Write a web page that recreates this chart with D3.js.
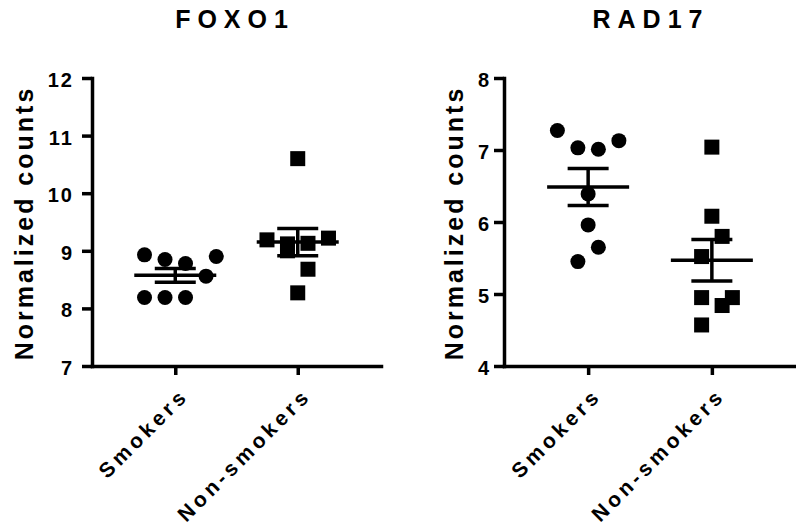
<!DOCTYPE html>
<html>
<head>
<meta charset="utf-8">
<script src="https://cdn.jsdelivr.net/npm/d3@7"></script>
<style>
  html, body { margin: 0; padding: 0; background: #fff; }
  svg { display: block; font-family: "Liberation Sans", Arial, sans-serif; font-weight: bold; }
</style>
</head>
<body>
<svg id="chart" width="796" height="532"></svg>
<script>
// ---------- data ----------
const categories = ["Smokers", "Non-smokers"];
const panelTitles = ["FOXO1", "RAD17"];
const yAxisTitle = "Normalized counts";

const foxo1Smokers    = [8.93, 8.85, 8.78, 8.90, 8.56, 8.19, 8.19, 8.19];
const foxo1NonSmokers = [10.60, 9.19, 9.12, 9.00, 9.13, 9.22, 8.68, 8.27];
const rad17Smokers    = [7.27, 7.03, 7.01, 7.13, 6.39, 5.96, 5.65, 5.45];
const rad17NonSmokers = [7.04, 6.08, 5.80, 5.52, 4.95, 4.84, 4.95, 4.57];

// horizontal spread slots for overlapping points (column scatter)
const foxo1SmokersSlots    = [-1.5, -0.5, 0.5, 2, 1.5, -1.5, -0.5, 0.5];
const foxo1NonSmokersSlots = [0, -1.5, -0.5, -0.5, 0.5, 1.5, 0.5, 0];
const rad17SmokersSlots    = [-1.5, -0.5, 0.5, 1.5, 0, 0, 0.5, -0.5];
const rad17NonSmokersSlots = [0, 0, 0.5, -0.5, -0.5, 0.5, 1, -0.5];

const foxo1Ticks = [7, 8, 9, 10, 11, 12];
const rad17Ticks = [4, 5, 6, 7, 8];

// ---------- layout ----------
const panels = [
  { title: panelTitles[0], groups: [foxo1Smokers, foxo1NonSmokers], slots: [foxo1SmokersSlots, foxo1NonSmokersSlots],
    domain: [7, 12], ticks: foxo1Ticks, x0: 92, x1: 381, yTitleX: 33, titleX: 235, tickPad: 8 },
  { title: panelTitles[1], groups: [rad17Smokers, rad17NonSmokers], slots: [rad17SmokersSlots, rad17NonSmokersSlots],
    domain: [4, 8], ticks: rad17Ticks, x0: 504, x1: 796, yTitleX: 463, titleX: 651, tickPad: 3 }
];
const yTop = 78, yBottom = 366;
const slotW = 20.5, markR = 7.5, sq = 15;
const meanHalf = 41, semHalf = 20.5;
const strokeW = 3.5;
const fontFam = "Liberation Sans, Arial, sans-serif";

const svg = d3.select("#chart");

function mean(a) { return d3.mean(a); }
function sem(a) { return d3.deviation(a) / Math.sqrt(a.length); }

panels.forEach((p, pi) => {
  const x = d3.scalePoint().domain(categories).range([p.x0, p.x1]).padding(0.68);
  const y = d3.scaleLinear().domain(p.domain).range([yBottom, yTop]);
  const g = svg.append("g");

  // title
  g.append("text")
    .attr("x", p.titleX).attr("y", 28)
    .attr("text-anchor", "middle")
    .style("font-size", "25px").style("letter-spacing", "7px")
    .text(p.title);

  // y axis title
  g.append("text")
    .attr("transform", `translate(${p.yTitleX},${(yTop + yBottom) / 2 + 1}) rotate(-90)`)
    .attr("text-anchor", "middle")
    .style("font-size", "25px").style("letter-spacing", "3px")
    .text(yAxisTitle);

  // y axis
  const ya = g.append("g").attr("transform", `translate(${p.x0},0)`)
    .call(d3.axisLeft(y).tickValues(p.ticks).tickFormat(d3.format("d")).tickSize(10).tickSizeOuter(0).tickPadding(p.tickPad));
  ya.select(".domain").attr("stroke", "#000").attr("stroke-width", strokeW).attr("stroke-linecap", "square");
  ya.selectAll(".tick line").attr("stroke", "#000").attr("stroke-width", strokeW);
  ya.selectAll(".tick text").attr("fill", "#000").attr("dy", "0.42em")
    .style("font-size", "20px").style("font-family", fontFam).style("font-weight", "bold")
    .style("letter-spacing", "2px");

  // x axis
  const xa = g.append("g").attr("transform", `translate(0,${yBottom})`)
    .call(d3.axisBottom(x).tickSize(9).tickSizeOuter(0).tickPadding(0));
  xa.select(".domain").attr("stroke", "#000").attr("stroke-width", strokeW).attr("stroke-linecap", "square");
  xa.selectAll(".tick line").attr("stroke", "#000").attr("stroke-width", strokeW);
  xa.selectAll(".tick text")
    .attr("fill", "#000")
    .attr("text-anchor", "end")
    .attr("y", 0).attr("dy", 0)
    .attr("transform", "translate(14,31) rotate(-45)")
    .style("font-size", "21px").style("font-family", fontFam).style("font-weight", "bold")
    .style("letter-spacing", "4px");

  // points
  p.groups.forEach((vals, gi) => {
    const cx = x(categories[gi]);
    const pts = vals.map((v, i) => ({ v, s: p.slots[gi][i] }));
    if (gi === 0) {
      g.selectAll(null).data(pts).enter().append("circle")
        .attr("cx", d => cx + d.s * slotW).attr("cy", d => y(d.v)).attr("r", markR).attr("fill", "#000");
    } else {
      g.selectAll(null).data(pts).enter().append("rect")
        .attr("x", d => cx + d.s * slotW - sq / 2).attr("y", d => y(d.v) - sq / 2)
        .attr("width", sq).attr("height", sq).attr("fill", "#000");
    }
    // mean and SEM
    const m = mean(vals), e = sem(vals);
    const lines = [
      [cx - meanHalf, y(m), cx + meanHalf, y(m)],
      [cx, y(m - e), cx, y(m + e)],
      [cx - semHalf, y(m + e), cx + semHalf, y(m + e)],
      [cx - semHalf, y(m - e), cx + semHalf, y(m - e)]
    ];
    g.selectAll(null).data(lines).enter().append("line")
      .attr("x1", d => d[0]).attr("y1", d => d[1]).attr("x2", d => d[2]).attr("y2", d => d[3])
      .attr("stroke", "#000").attr("stroke-width", strokeW);
  });
});
</script>
</body>
</html>
